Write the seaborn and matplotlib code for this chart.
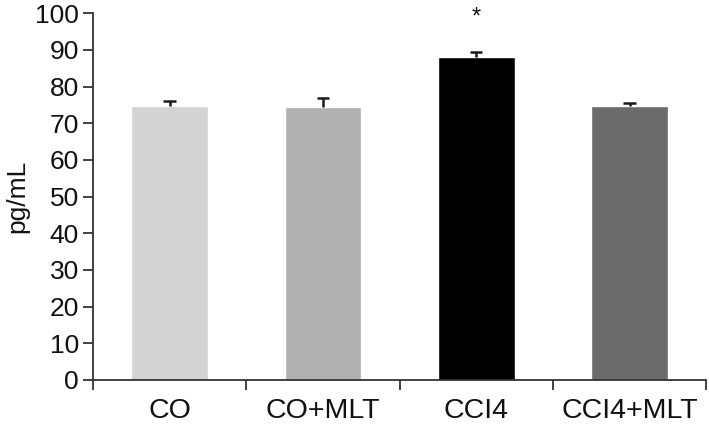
import numpy as np
import pandas as pd
import seaborn as sns
import matplotlib.pyplot as plt

# Data
groups = ['CO', 'CO+MLT', 'CCI4', 'CCI4+MLT']
means = [74.8, 74.3, 88.0, 74.8]
sem = [1.3, 2.7, 1.4, 0.8]
bar_colors = ['#d3d3d3', '#b0b0b0', '#000000', '#6b6b6b']
star_group = 'CCI4'

df = pd.DataFrame({'Group': groups, 'Value': means})

sns.set_style('ticks')
plt.rcParams['font.family'] = ['Liberation Sans', 'DejaVu Sans']

fig = plt.figure(figsize=(7.09, 4.26), dpi=100)
ax = fig.add_axes([0.131, 0.108, 0.865, 0.861])

sns.barplot(data=df, x='Group', y='Value', hue='Group', palette=bar_colors,
            legend=False, width=0.5, saturation=1, ax=ax, errorbar=None)

# Upper error bars only (stem + cap)
x_pos = np.arange(len(groups))
tops = np.array(means) + np.array(sem)
ax.vlines(x_pos, means, tops, color='#1a1a1a', lw=1.8, zorder=5)
ax.hlines(tops, x_pos - 0.04, x_pos + 0.04, color='#1a1a1a', lw=1.8, zorder=5)

# Significance marker
i = groups.index(star_group)
ax.text(x_pos[i], tops[i] + 6.5, '*', ha='center', va='bottom',
        fontsize=17, color='#111111')

ax.set_ylim(0, 100)
ax.set_yticks(range(0, 101, 10))
ax.set_xlim(-0.5, len(groups) - 0.5)
ax.set_xticks(np.arange(-0.5, len(groups)), minor=False)
ax.set_xticklabels([])
ax.set_xticks(x_pos, minor=True)
ax.set_xticklabels(groups, minor=True)
ax.tick_params(axis='x', which='minor', length=0, labelsize=20.5, pad=13,
               labelcolor='#111111')
ax.tick_params(axis='x', which='major', length=7, width=1.3, color='#333333')
ax.tick_params(axis='y', length=7, width=1.3, labelsize=19, color='#333333',
               pad=3, labelcolor='#111111')
ax.set_xlabel('')
ax.set_ylabel('pg/mL', fontsize=19, labelpad=4, color='#111111')

for side in ['left', 'bottom']:
    ax.spines[side].set_linewidth(1.3)
    ax.spines[side].set_color('#333333')
for side in ['top', 'right']:
    ax.spines[side].set_visible(False)

fig.savefig('out.png', dpi=100)
